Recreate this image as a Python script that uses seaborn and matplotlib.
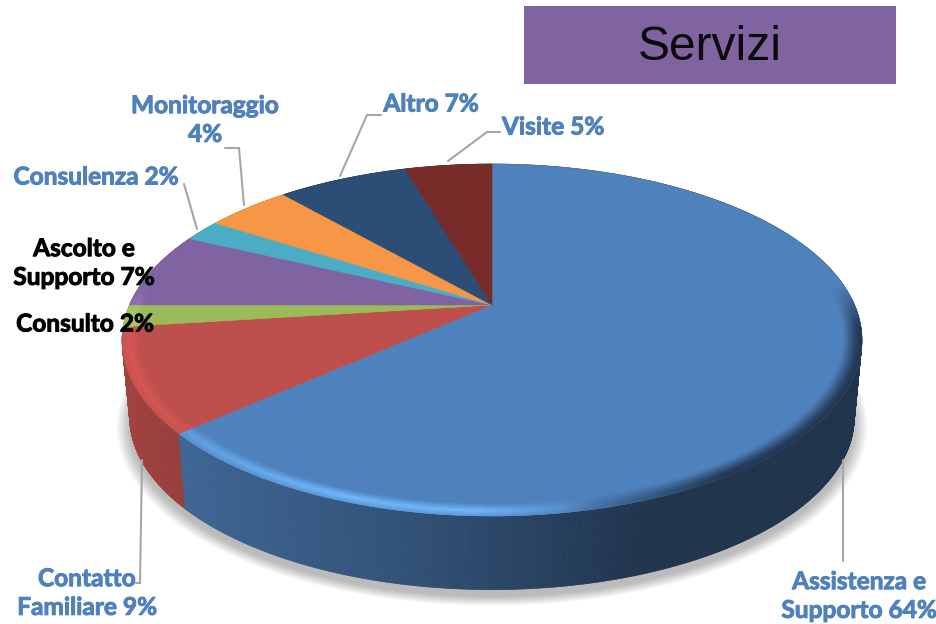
import numpy as np
import matplotlib
matplotlib.use("Agg")
import matplotlib.pyplot as plt
import matplotlib.patheffects as pe
import matplotlib.transforms as mtransforms
from matplotlib.collections import PolyCollection
from matplotlib.patches import Rectangle
from matplotlib.path import Path
import seaborn as sns

# ---- data ----
categories = ["Assistenza e\nSupporto", "Contatto\nFamiliare", "Consulto", "Ascolto e\nSupporto",
              "Consulenza", "Monitoraggio\n", "Altro", "Visite"]
shares = [63.5, 9.5, 2.0, 7.0, 2.0, 4.5, 6.9, 4.6]       # slice sizes as measured on the picture
percent_labels = [64, 9, 2, 7, 2, 4, 7, 5]               # rounded values printed on the labels
slice_colors = ["#4F81BD", "#BE4F4C", "#9BBB59", "#8064A2", "#4BACC6", "#F79646", "#2C4D75", "#772C2A"]
title_text = "Servizi"

# ---- layout ----
label_pos = [(859, 596), (87, 593), (85, 324), (84, 263), (96, 177), (205, 120), (431, 104), (553, 127)]
label_dark = [False, False, True, True, False, False, False, False]
leaders = [
    [(843, 460), (843, 561)],
    [(142, 460), (140, 583), (136, 583)],
    [(197, 229), (184, 184)],
    [(244, 205), (239, 148), (225, 148)],
    [(340, 176), (367, 115), (381, 115)],
    [(448, 161), (487, 132), (500, 132)],
]
TOP = dict(x0=492.0, y0=305.0, A=362.5, B=169.0, a=0.199)
BOT = dict(x0=492.0, y0=383.0, A=355.0, B=165.5, a=0.199)

sns.set_theme(style="white")
plt.rcParams["font.family"] = ["Lato", "DejaVu Sans"]
palette = sns.color_palette(slice_colors)


def project(u, v, p):
    w = 1 + p["a"] * v
    return p["x0"] + p["A"] * u / w, p["y0"] - p["B"] * v / w


class Perspective(mtransforms.Transform):
    input_dims = 2
    output_dims = 2
    is_separable = False
    has_inverse = False

    def __init__(self, params):
        super().__init__()
        self.params = params

    def transform_non_affine(self, xy):
        xy = np.asarray(xy, float)
        x, y = project(xy[:, 0], xy[:, 1], self.params)
        return np.column_stack([x, y])

    def transform_path_non_affine(self, path):
        polys = path.transformed(mtransforms.Affine2D().scale(2000)).to_polygons(closed_only=True)
        verts = [self.transform_non_affine(np.asarray(pl) / 2000) for pl in polys]
        return Path.make_compound_path(*[Path(vv, closed=False) for vv in verts])


fig = plt.figure(figsize=(9.36, 6.24), dpi=100)
ax = fig.add_axes([0, 0, 1, 1])

wedges, _ = ax.pie(shares, colors=palette, startangle=90, counterclock=False, radius=1,
                   normalize=True, wedgeprops=dict(linewidth=0.4))
persp = Perspective(TOP)
for w, c in zip(wedges, palette):
    w.set_edgecolor(c)
    w.set_transform(persp + ax.transData)
    w.set_zorder(5)
ax.set_aspect("auto")
ax.set_xlim(0, 936)
ax.set_ylim(624, 0)
ax.axis("off")

# soft shadow beneath the body
th = np.linspace(0, 2 * np.pi, 361)
for k, s in enumerate(np.linspace(1.035, 1.0, 12)):
    sx, sy = project(s * np.cos(th), s * np.sin(th), BOT)
    ax.fill(sx, sy + 7, color="#000000", alpha=0.022, lw=0, zorder=1)

# side walls, coloured by horizontal position, painted back to front
sx_pos = [130, 190, 420, 650, 860]
sx_fac = [0.84, 0.78, 0.62, 0.40, 0.40]
side = []
for w, c in zip(wedges, palette):
    t1, t2 = min(w.theta1, w.theta2), max(w.theta1, w.theta2)
    n = max(3, int((t2 - t1) * 3))
    e = np.radians(np.linspace(t1, t2, n + 1))
    for i in range(n):
        a1, a2 = e[i], e[i + 1]
        x1, y1 = project(np.cos(a1), np.sin(a1), TOP)
        x2, y2 = project(np.cos(a2), np.sin(a2), TOP)
        x3, y3 = project(np.cos(a2), np.sin(a2), BOT)
        x4, y4 = project(np.cos(a1), np.sin(a1), BOT)
        f = np.interp((x1 + x2) / 2, sx_pos, sx_fac)
        side.append(((y1 + y2 + y3 + y4) / 4, [(x1, y1), (x2, y2), (x3, y3), (x4, y4)],
                     tuple(np.array(c) * f)))
side.sort(key=lambda q: q[0])
cols = [q[2] for q in side]
ax.add_collection(PolyCollection([q[1] for q in side], facecolors=cols, edgecolors=cols,
                                 linewidths=0.5, zorder=3))

# bevel along the rim of the top face
r_edges = np.linspace(0.952, 1.0, 11)
quads, cols = [], []
for w, c in zip(wedges, palette):
    c = np.array(c)
    light = np.clip(c * 1.45, 0, 1) if c[2] > c[0] else np.clip(c * 1.17, 0, 1)
    dark = c * 0.40
    t1, t2 = min(w.theta1, w.theta2), max(w.theta1, w.theta2)
    n = max(3, int((t2 - t1) * 2))
    e = np.radians(np.linspace(t1, t2, n + 1))
    for i in range(n):
        a1, a2 = e[i], e[i + 1]
        vm = np.sin((a1 + a2) / 2)
        vis = np.clip((0.12 - vm) / 0.25, 0, 1)
        if vis <= 0:
            continue
        for j in range(len(r_edges) - 1):
            r1, r2 = r_edges[j], r_edges[j + 1]
            pts = [project(r1 * np.cos(a1), r1 * np.sin(a1), TOP),
                   project(r1 * np.cos(a2), r1 * np.sin(a2), TOP),
                   project(r2 * np.cos(a2), r2 * np.sin(a2), TOP),
                   project(r2 * np.cos(a1), r2 * np.sin(a1), TOP)]
            xm = np.mean([p[0] for p in pts])
            s = ((r1 + r2) / 2 - r_edges[0]) / (1 - r_edges[0])
            k_l = np.interp(xm, [120, 190, 340, 480, 600], [0.8, 0.55, 1, 1, 0]) * np.interp(s, [0, 0.6, 1], [0, 1, 0.45])
            k_d = np.interp(xm, [560, 720], [0, 1]) * np.interp(s, [0, 0.7, 1], [0, 0.85, 1])
            col = c + (light - c) * k_l * vis + (dark - c) * k_d * vis
            quads.append(pts)
            cols.append(tuple(np.clip(col, 0, 1)))
ax.add_collection(PolyCollection(quads, facecolors=cols, edgecolors=cols, linewidths=0.3, zorder=6))

# leader lines
for pts in leaders:
    xs, ys = zip(*pts)
    ax.plot(xs, ys, color="#A6A6A6", lw=1.5, solid_joinstyle="miter", zorder=4)

# data labels
for name, v, pos, dark in zip(categories, percent_labels, label_pos, label_dark):
    col = "#000000" if dark else "#4F81BD"
    ax.text(pos[0], pos[1], f"{name} {v}%" if not name.endswith("\n") else f"{name}{v}%",
            ha="center", va="center", ma="center", fontsize=17.6, fontweight="bold",
            linespacing=1.3, color=col, zorder=8,
            path_effects=[pe.withStroke(linewidth=0.7, foreground=col)])

# title box
ax.add_patch(Rectangle((524, 6), 372, 78, facecolor="#8064A2", edgecolor="none", zorder=7))
ax.text(710, 47.5, title_text, ha="center", va="center", fontsize=34.5,
        family="Liberation Sans", color="#0A0A0A", zorder=8)

fig.savefig("out.png", dpi=100, facecolor="white")
